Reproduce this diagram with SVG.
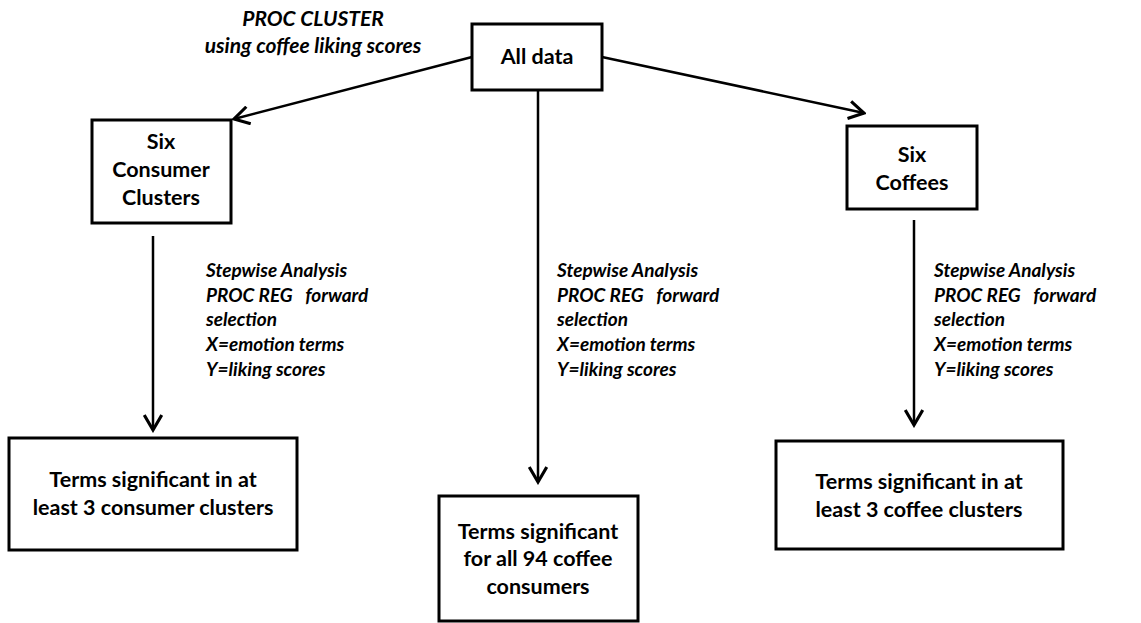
<svg xmlns="http://www.w3.org/2000/svg" width="1141" height="623" viewBox="0 0 1141 623">
<style>
.box{fill:#fff;stroke:#000;stroke-width:3}
.t{font-family:Lato,"Liberation Sans",sans-serif;font-weight:bold;font-size:21.5px;fill:#000;text-anchor:middle}
.i{font-family:Lato,"Liberation Sans",sans-serif;font-weight:bold;font-style:italic;font-size:19px;fill:#000}
.top{font-size:21px}
.c{stroke:#000;stroke-width:2.5;fill:none}
</style>
<defs>
<marker id="ah" markerUnits="userSpaceOnUse" markerWidth="20" markerHeight="20" viewBox="-14 -8 16 16" refX="0" refY="0" orient="auto">
<path d="M-12,-7 L0,0 L-12,7" fill="none" stroke="#000" stroke-width="2.5"/>
</marker>
</defs>
<rect width="1141" height="623" fill="#fff"/>
<g id="connectors">
<line class="c" x1="472" y1="57" x2="234" y2="119" marker-end="url(#ah)"/>
<line class="c" x1="602" y1="57" x2="864" y2="113" marker-end="url(#ah)"/>
<line class="c" x1="538" y1="90" x2="538" y2="482" marker-end="url(#ah)"/>
<line class="c" x1="153" y1="236" x2="153" y2="430" marker-end="url(#ah)"/>
<line class="c" x1="914" y1="220" x2="914" y2="425" marker-end="url(#ah)"/>
</g>
<g id="label-cluster">
<text class="i top" x="313" y="26" text-anchor="middle">PROC CLUSTER</text>
<text class="i top" x="313" y="53" text-anchor="middle">using coffee liking scores</text>
</g>
<g id="all-data">
<rect class="box" x="472" y="24" width="130" height="66"/>
<text class="t" x="537" y="64">All data</text>
</g>
<g id="consumer-clusters">
<rect class="box" x="92" y="120" width="139" height="103"/>
<text class="t" x="161" y="149">Six</text>
<text class="t" x="161" y="177">Consumer</text>
<text class="t" x="161" y="205">Clusters</text>
</g>
<g id="six-coffees">
<rect class="box" x="847" y="126" width="130" height="83"/>
<text class="t" x="912" y="162">Six</text>
<text class="t" x="912" y="190">Coffees</text>
</g>
<g id="label-left">
<text class="i" x="206" y="277">Stepwise Analysis</text>
<text class="i" x="206" y="302" xml:space="preserve">PROC REG   forward</text>
<text class="i" x="206" y="326">selection</text>
<text class="i" x="206" y="351">X=emotion terms</text>
<text class="i" x="206" y="376">Y=liking scores</text>
</g>
<g id="label-center">
<text class="i" x="557" y="277">Stepwise Analysis</text>
<text class="i" x="557" y="302" xml:space="preserve">PROC REG   forward</text>
<text class="i" x="557" y="326">selection</text>
<text class="i" x="557" y="351">X=emotion terms</text>
<text class="i" x="557" y="376">Y=liking scores</text>
</g>
<g id="label-right">
<text class="i" x="934" y="277">Stepwise Analysis</text>
<text class="i" x="934" y="302" xml:space="preserve">PROC REG   forward</text>
<text class="i" x="934" y="326">selection</text>
<text class="i" x="934" y="351">X=emotion terms</text>
<text class="i" x="934" y="376">Y=liking scores</text>
</g>
<g id="terms-consumer">
<rect class="box" x="9" y="438" width="288" height="112"/>
<text class="t" x="153" y="487">Terms significant in at</text>
<text class="t" x="153" y="515">least 3 consumer clusters</text>
</g>
<g id="terms-all">
<rect class="box" x="439" y="496" width="199" height="125"/>
<text class="t" x="538" y="539">Terms significant</text>
<text class="t" x="538" y="566">for all 94 coffee</text>
<text class="t" x="538" y="594">consumers</text>
</g>
<g id="terms-coffee">
<rect class="box" x="776" y="441" width="287" height="108"/>
<text class="t" x="919" y="489">Terms significant in at</text>
<text class="t" x="919" y="517">least 3 coffee clusters</text>
</g>
</svg>
